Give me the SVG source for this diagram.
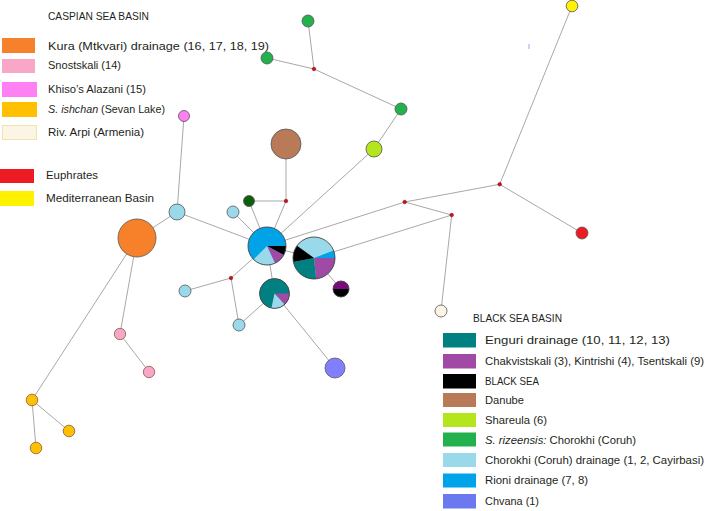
<svg xmlns="http://www.w3.org/2000/svg" width="709" height="511" viewBox="0 0 709 511">
<style>
  .e{stroke:#a8a8a8;stroke-width:1;fill:none}
  .n{stroke:#555;stroke-width:0.8}
  .nb{stroke:#8a5a3a;stroke-width:0.8}
  .o{fill:none;stroke:#444;stroke-width:0.9}
  .m{fill:#d01010;stroke:#700;stroke-width:0.5}
  .t{font-family:"Liberation Sans",Arial,sans-serif;font-size:10.5px;fill:#231f20}
  .i{font-style:italic}
</style>
<rect width="709" height="511" fill="#fff"/>
<g id="connectors">
  <line class="e" x1="137" y1="238" x2="32" y2="400"/>
  <line class="e" x1="137" y1="238" x2="120" y2="334"/>
  <line class="e" x1="120" y1="334" x2="149" y2="372"/>
  <line class="e" x1="32" y1="400" x2="69" y2="431"/>
  <line class="e" x1="32" y1="400" x2="36" y2="448"/>
  <line class="e" x1="137" y1="238" x2="177" y2="212"/>
  <line class="e" x1="177" y1="212" x2="184" y2="116"/>
  <line class="e" x1="177" y1="212" x2="267" y2="246"/>
  <line class="e" x1="267" y1="246" x2="233" y2="212"/>
  <line class="e" x1="267" y1="246" x2="249" y2="201"/>
  <line class="e" x1="267" y1="246" x2="286" y2="201"/>
  <line class="e" x1="286" y1="201" x2="249" y2="201"/>
  <line class="e" x1="286" y1="201" x2="286" y2="144"/>
  <line class="e" x1="267" y1="246" x2="374" y2="149"/>
  <line class="e" x1="374" y1="149" x2="401" y2="109"/>
  <line class="e" x1="401" y1="109" x2="314" y2="69"/>
  <line class="e" x1="314" y1="69" x2="308" y2="21"/>
  <line class="e" x1="314" y1="69" x2="267" y2="58"/>
  <line class="e" x1="267" y1="246" x2="404.7" y2="202"/>
  <line class="e" x1="404.7" y1="202" x2="451.7" y2="215"/>
  <line class="e" x1="404.7" y1="202" x2="499.7" y2="184.3"/>
  <line class="e" x1="499.7" y1="184.3" x2="572" y2="6"/>
  <line class="e" x1="499.7" y1="184.3" x2="582" y2="233"/>
  <line class="e" x1="451.7" y1="215" x2="314" y2="258"/>
  <line class="e" x1="451.7" y1="215" x2="441" y2="311"/>
  <line class="e" x1="267" y1="246" x2="314" y2="258"/>
  <line class="e" x1="267" y1="246" x2="274.5" y2="293.5"/>
  <line class="e" x1="314" y1="258" x2="341" y2="289"/>
  <line class="e" x1="274.5" y1="293.5" x2="335" y2="368"/>
  <line class="e" x1="274.5" y1="293.5" x2="239" y2="325"/>
  <line class="e" x1="267" y1="246" x2="231" y2="278"/>
  <line class="e" x1="231" y1="278" x2="185" y2="291"/>
  <line class="e" x1="231" y1="278" x2="239" y2="325"/>
</g>
<g id="medians">
  <circle class="m" cx="314" cy="69" r="1.8"/>
  <circle class="m" cx="286" cy="201" r="1.8"/>
  <circle class="m" cx="231" cy="278" r="1.8"/>
  <circle class="m" cx="404.7" cy="202" r="1.8"/>
  <circle class="m" cx="451.7" cy="215" r="1.8"/>
  <circle class="m" cx="499.7" cy="184.3" r="1.8"/>
</g>
<g id="node-kura"><circle class="n" cx="137" cy="238" r="19" fill="#f7812a"/></g>
<g id="node-snost1"><circle class="nb" cx="120" cy="334" r="5.7" fill="#f9a7c9"/></g>
<g id="node-snost2"><circle class="nb" cx="149" cy="372" r="5.7" fill="#f9a7c9"/></g>
<g id="node-ish1"><circle class="nb" cx="32" cy="400" r="5.8" fill="#ffc000"/></g>
<g id="node-ish2"><circle class="nb" cx="69" cy="431" r="5.8" fill="#ffc000"/></g>
<g id="node-ish3"><circle class="nb" cx="36" cy="448" r="5.8" fill="#ffc000"/></g>
<g id="node-khiso"><circle class="n" cx="184" cy="116" r="5.5" fill="#ff80f2"/></g>
<g id="node-chor1"><circle class="n" cx="177" cy="212" r="8" fill="#99d9ea"/></g>
<g id="node-chor2"><circle class="n" cx="233" cy="212" r="6" fill="#99d9ea"/></g>
<g id="node-chor3"><circle class="n" cx="185" cy="291" r="6" fill="#99d9ea"/></g>
<g id="node-chor4"><circle class="n" cx="239" cy="325" r="6" fill="#99d9ea"/></g>
<g id="node-darkgreen"><circle class="n" cx="249" cy="201" r="5.5" fill="#0b5e0b"/></g>
<g id="node-danube"><circle class="n" cx="286" cy="144" r="15" fill="#b97a57"/></g>
<g id="node-shareula"><circle class="n" cx="374" cy="149" r="8" fill="#b5e61d"/></g>
<g id="node-riz1"><circle class="n" cx="401" cy="109" r="6" fill="#22b14c"/></g>
<g id="node-riz2"><circle class="n" cx="308" cy="21" r="6" fill="#22b14c"/></g>
<g id="node-riz3"><circle class="n" cx="267" cy="58" r="6" fill="#22b14c"/></g>
<g id="node-med"><circle class="n" cx="572" cy="6" r="5.8" fill="#fff200"/></g>
<g id="node-euph"><circle class="n" cx="582" cy="233" r="6" fill="#ed1c24"/></g>
<g id="node-arpi"><circle class="n" cx="441" cy="311" r="6" fill="#faf5e4"/></g>
<g id="node-chvana"><circle class="n" cx="335" cy="368" r="10" fill="#8080ff"/></g>
<g id="node-rioni">
  <circle cx="267" cy="246" r="19" fill="#00a2e8"/>
  <path d="M267,246 L286,246 A19,19 0 0 1 283.78,254.92 Z" fill="#000"/>
  <path d="M267,246 L283.78,254.92 A19,19 0 0 1 275.03,263.22 Z" fill="#a04aa6"/>
  <path d="M267,246 L275.03,263.22 A19,19 0 0 1 253.56,259.44 Z" fill="#99d9ea"/>
  <circle class="o" cx="267" cy="246" r="19"/>
</g>
<g id="node-mixed">
  <circle cx="314" cy="258" r="21" fill="#99d9ea"/>
  <path d="M314,258 L333.6,250.47 A21,21 0 0 1 335,258 Z" fill="#00a2e8"/>
  <path d="M314,258 L335,258 A21,21 0 0 1 316.19,278.88 Z" fill="#a04aa6"/>
  <path d="M314,258 L316.19,278.88 A21,21 0 0 1 293.39,262.01 Z" fill="#008080"/>
  <path d="M314,258 L293.39,262.01 A21,21 0 0 1 297.01,245.66 Z" fill="#000"/>
  <circle class="o" cx="314" cy="258" r="21"/>
</g>
<g id="node-enguri">
  <circle cx="274.5" cy="293.5" r="15" fill="#008080"/>
  <path d="M274.5,293.5 L289.5,293.5 A15,15 0 0 1 284.73,304.47 Z" fill="#a04aa6"/>
  <path d="M274.5,293.5 L284.73,304.47 A15,15 0 0 1 271.38,308.17 Z" fill="#99d9ea"/>
  <circle class="o" cx="274.5" cy="293.5" r="15"/>
</g>
<g id="node-blacksea">
  <path d="M333,289 A8,8 0 0 1 349,289 Z" fill="#7b0a7e"/>
  <path d="M349,289 A8,8 0 0 1 333,289 Z" fill="#000"/>
  <circle class="o" cx="341" cy="289" r="8"/>
</g>
<rect x="528.5" y="44" width="1" height="5" fill="#8fb0e0"/>
<g id="legend-caspian">
  <text class="t" x="48" y="20" textLength="101" lengthAdjust="spacingAndGlyphs">CASPIAN SEA BASIN</text>
  <rect x="2" y="38" width="33" height="15" fill="#f7812a"/>
  <text class="t" x="48" y="50" textLength="221" lengthAdjust="spacingAndGlyphs">Kura (Mtkvari) drainage (16, 17, 18, 19)</text>
  <rect x="2" y="59" width="33" height="14" fill="#f9a7c9"/>
  <text class="t" x="48" y="69" textLength="73" lengthAdjust="spacingAndGlyphs">Snostskali (14)</text>
  <rect x="2" y="82" width="35" height="15" fill="#ff80f2"/>
  <text class="t" x="48" y="93" textLength="98" lengthAdjust="spacingAndGlyphs">Khiso’s Alazani (15)</text>
  <rect x="2" y="102" width="35" height="15" fill="#ffc000"/>
  <text class="t" x="48" y="113" textLength="117" lengthAdjust="spacingAndGlyphs"><tspan class="i">S. ishchan</tspan> (Sevan Lake)</text>
  <rect x="2.5" y="125.5" width="34" height="14" fill="#faf5e4" stroke="#f3e3a8" stroke-width="1"/>
  <text class="t" x="48" y="136" textLength="96" lengthAdjust="spacingAndGlyphs">Riv. Arpi (Armenia)</text>
  <rect x="0" y="169" width="34" height="14" fill="#ed1c24"/>
  <text class="t" x="46" y="179" textLength="52" lengthAdjust="spacingAndGlyphs">Euphrates</text>
  <rect x="0" y="191" width="34" height="15" fill="#fff200"/>
  <text class="t" x="46" y="202" textLength="108" lengthAdjust="spacingAndGlyphs">Mediterranean Basin</text>
</g>
<g id="legend-blacksea">
  <text class="t" x="473" y="322" textLength="89" lengthAdjust="spacingAndGlyphs">BLACK SEA BASIN</text>
  <rect x="443" y="333" width="33" height="14.5" fill="#008080"/>
  <text class="t" x="485" y="344" textLength="185" lengthAdjust="spacingAndGlyphs">Enguri drainage (10, 11, 12, 13)</text>
  <rect x="443" y="354" width="33" height="14.5" fill="#a04aa6"/>
  <text class="t" x="485" y="365" textLength="219" lengthAdjust="spacingAndGlyphs">Chakvistskali (3), Kintrishi (4), Tsentskali (9)</text>
  <rect x="443" y="374" width="33" height="14.5" fill="#000"/>
  <text class="t" x="485" y="385" textLength="54" lengthAdjust="spacingAndGlyphs">BLACK SEA</text>
  <rect x="443" y="393" width="33" height="14" fill="#b97a57"/>
  <text class="t" x="485" y="404" textLength="39" lengthAdjust="spacingAndGlyphs">Danube</text>
  <rect x="443" y="413" width="33" height="14" fill="#b5e61d"/>
  <text class="t" x="485" y="424" textLength="62" lengthAdjust="spacingAndGlyphs">Shareula (6)</text>
  <rect x="443" y="432.5" width="33" height="14" fill="#22b14c"/>
  <text class="t" x="485" y="444" textLength="151" lengthAdjust="spacingAndGlyphs"><tspan class="i">S. rizeensis:</tspan> Chorokhi (Coruh)</text>
  <rect x="443" y="453" width="33" height="14" fill="#99d9ea"/>
  <text class="t" x="485" y="464" textLength="219" lengthAdjust="spacingAndGlyphs">Chorokhi (Coruh) drainage (1, 2, Cayirbasi)</text>
  <rect x="443" y="473.5" width="33" height="14" fill="#00a2e8"/>
  <text class="t" x="485" y="484" textLength="103" lengthAdjust="spacingAndGlyphs">Rioni drainage (7, 8)</text>
  <rect x="443" y="494" width="33" height="14.5" fill="#6b78f0"/>
  <text class="t" x="485" y="505" textLength="54" lengthAdjust="spacingAndGlyphs">Chvana (1)</text>
</g>
</svg>
